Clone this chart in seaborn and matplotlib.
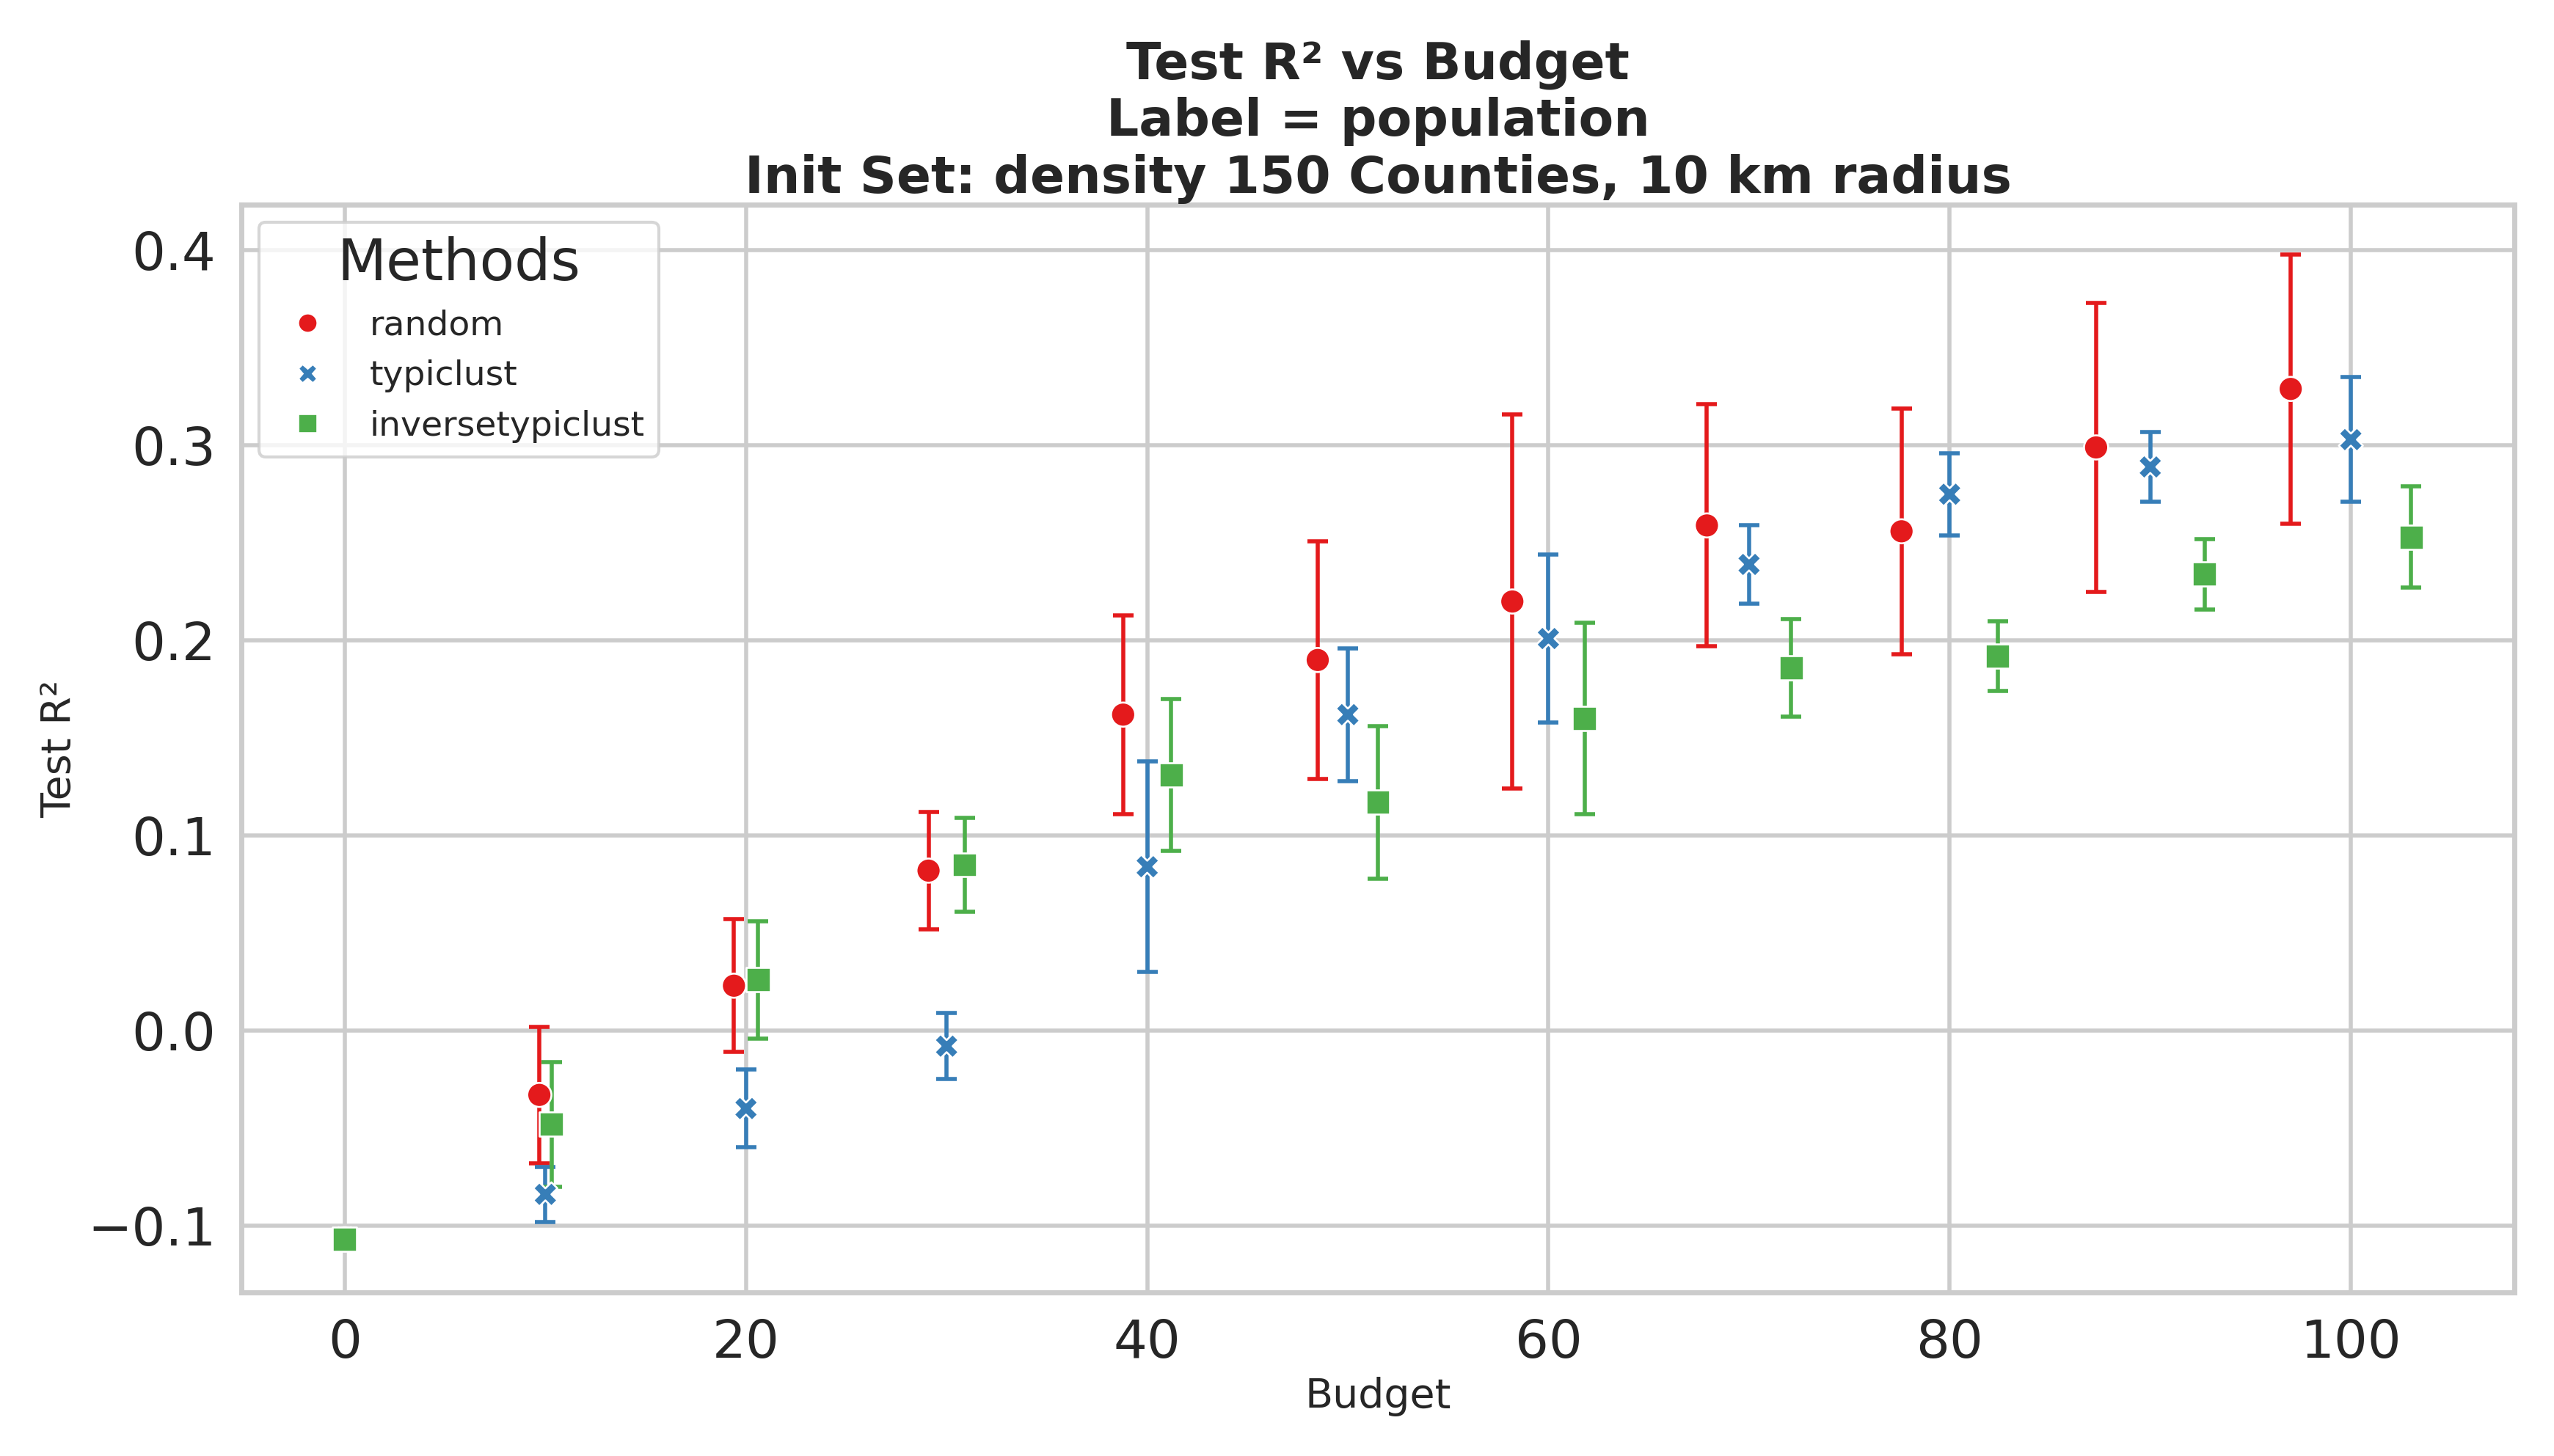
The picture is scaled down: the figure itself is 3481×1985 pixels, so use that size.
import numpy as np
import pandas as pd
import matplotlib
matplotlib.use('Agg')
import matplotlib.pyplot as plt
import seaborn as sns

budgets = [0, 10, 20, 30, 40, 50, 60, 70, 80, 90, 100]
methods = ['random', 'typiclust', 'inversetypiclust']
shifts = {'random': 0.97, 'typiclust': 1.0, 'inversetypiclust': 1.03}

random_mean = [-0.107, -0.033, 0.023, 0.082, 0.162, 0.190, 0.220, 0.259, 0.256, 0.299, 0.329]
random_err = [0.002, 0.035, 0.034, 0.030, 0.051, 0.061, 0.096, 0.062, 0.063, 0.074, 0.069]
typiclust_mean = [-0.107, -0.084, -0.040, -0.008, 0.084, 0.162, 0.201, 0.239, 0.275, 0.289, 0.303]
typiclust_err = [0.002, 0.014, 0.020, 0.017, 0.054, 0.034, 0.043, 0.020, 0.021, 0.018, 0.032]
inverse_mean = [-0.107, -0.048, 0.026, 0.085, 0.131, 0.117, 0.160, 0.186, 0.192, 0.234, 0.253]
inverse_err = [0.002, 0.032, 0.030, 0.024, 0.039, 0.039, 0.049, 0.025, 0.018, 0.018, 0.026]

means = {'random': random_mean, 'typiclust': typiclust_mean, 'inversetypiclust': inverse_mean}
errs = {'random': random_err, 'typiclust': typiclust_err, 'inversetypiclust': inverse_err}

rows = []
for m in methods:
    for b, y, e in zip(budgets, means[m], errs[m]):
        rows.append({'Budget': b * shifts[m], 'Test R²': y, 'err': e, 'Methods': m})
df = pd.DataFrame(rows)

sns.set_theme(style='whitegrid', context='talk')
palette = sns.color_palette('Set1', 3)
colors = dict(zip(methods, palette))

fig, ax = plt.subplots(figsize=(17.405, 9.925), dpi=200)
ax.grid(linewidth=2)
for m in methods:
    d = df[df['Methods'] == m]
    ax.errorbar(d['Budget'], d['Test R²'], yerr=d['err'], fmt='none',
                ecolor=colors[m], capsize=5, elinewidth=2, capthick=2)
sns.scatterplot(data=df, x='Budget', y='Test R²', hue='Methods', style='Methods',
                hue_order=methods, style_order=methods, palette=palette,
                markers=['o', 'X', 's'], s=140, ax=ax, zorder=3)

for sp in ax.spines.values():
    sp.set_color('#cccccc')
    sp.set_linewidth(2.5)
ax.tick_params(labelsize=26)
ax.set_xlabel('Budget', fontsize=20)
ax.set_ylabel('Test R²', fontsize=20)
ax.set_title('Test R² vs Budget\nLabel = population\nInit Set: density 150 Counties, 10 km radius',
             fontsize=25, fontweight='bold')
leg = ax.legend(title='Methods', loc='upper left', fontsize=17, title_fontsize=28,
                markerscale=0.8)
fig.tight_layout()
fig.savefig('out.png', dpi=200)
